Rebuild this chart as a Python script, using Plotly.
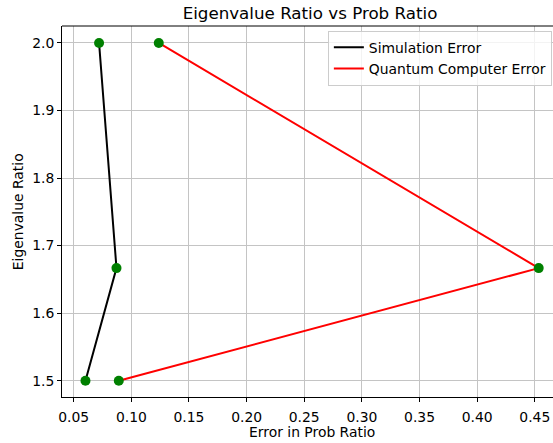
import plotly.graph_objects as go

# Data
eigen_ratio = [2.0, 1.6667, 1.5]
sim_error = [0.0720, 0.0871, 0.0602]
qc_error = [0.1238, 0.4534, 0.0891]

x_ticks = [0.05, 0.10, 0.15, 0.20, 0.25, 0.30, 0.35, 0.40, 0.45]
y_ticks = [1.5, 1.6, 1.7, 1.8, 1.9, 2.0]

FONT = "DejaVu Sans"
FS = 13.9

fig = go.Figure()
fig.add_trace(go.Scatter(x=sim_error, y=eigen_ratio, mode="lines",
                         line=dict(color="black", width=2),
                         name="Simulation Error"))
fig.add_trace(go.Scatter(x=qc_error, y=eigen_ratio, mode="lines",
                         line=dict(color="red", width=2),
                         name="Quantum Computer Error"))
fig.add_trace(go.Scatter(x=sim_error, y=eigen_ratio, mode="markers",
                         marker=dict(color="green", size=10),
                         showlegend=False, hoverinfo="skip"))
fig.add_trace(go.Scatter(x=qc_error, y=eigen_ratio, mode="markers",
                         marker=dict(color="green", size=10),
                         showlegend=False, hoverinfo="skip"))

axis_common = dict(
    showgrid=True, gridcolor="#c4c4c4", gridwidth=1,
    showline=True, linecolor="black", linewidth=1,
    ticks="outside", ticklen=4, tickcolor="black", tickwidth=1,
    tickfont=dict(family=FONT, size=FS, color="black"),
    zeroline=False,
)

fig.update_layout(
    width=553, height=443,
    margin=dict(l=62, r=0, t=26, b=46),
    paper_bgcolor="white", plot_bgcolor="white",
    font=dict(family=FONT, size=FS, color="black"),
    title=dict(text="Eigenvalue Ratio vs Prob Ratio",
               x=310 / 553, xanchor="center", xref="container",
               y=1 - 13 / 443, yanchor="middle", yref="container",
               font=dict(family=FONT, size=16.7, color="black")),
    xaxis=dict(range=[0.03984, 0.4658], tickvals=x_ticks,
               tickformat=".2f", ticklabelstandoff=3, **axis_common),
    yaxis=dict(range=[1.4759, 2.0251], tickvals=y_ticks,
               tickformat=".1f", **axis_common),
    legend=dict(x=(328 - 62.3) / 490.7, y=1 - (30.5 - 25.7) / 371.6,
                xanchor="left", yanchor="top",
                bgcolor="rgba(255,255,255,0.8)", bordercolor="#cccccc",
                borderwidth=1, font=dict(family=FONT, size=FS, color="black"),
                tracegroupgap=0, itemwidth=30),
    showlegend=True,
    annotations=[
        dict(text="Error in Prob Ratio", xref="paper", yref="paper",
             x=(312 - 62.3) / 490.7, y=(397.3 - 432) / 371.6,
             xanchor="center", yanchor="middle", showarrow=False,
             font=dict(family=FONT, size=FS, color="black")),
        dict(text="Eigenvalue Ratio", xref="paper", yref="paper",
             x=(18 - 62.3) / 490.7, y=0.5, textangle=-90,
             xanchor="center", yanchor="middle", showarrow=False,
             font=dict(family=FONT, size=FS, color="black")),
    ],
    shapes=[dict(type="line", xref="paper", yref="paper",
                 x0=0, x1=1, y0=1, y1=1,
                 line=dict(color="black", width=1))],
)

fig.write_html(
    "out.html",
    config={"displayModeBar": False},
    post_script="document.body.style.margin='0';document.body.style.overflow='hidden';",
)
